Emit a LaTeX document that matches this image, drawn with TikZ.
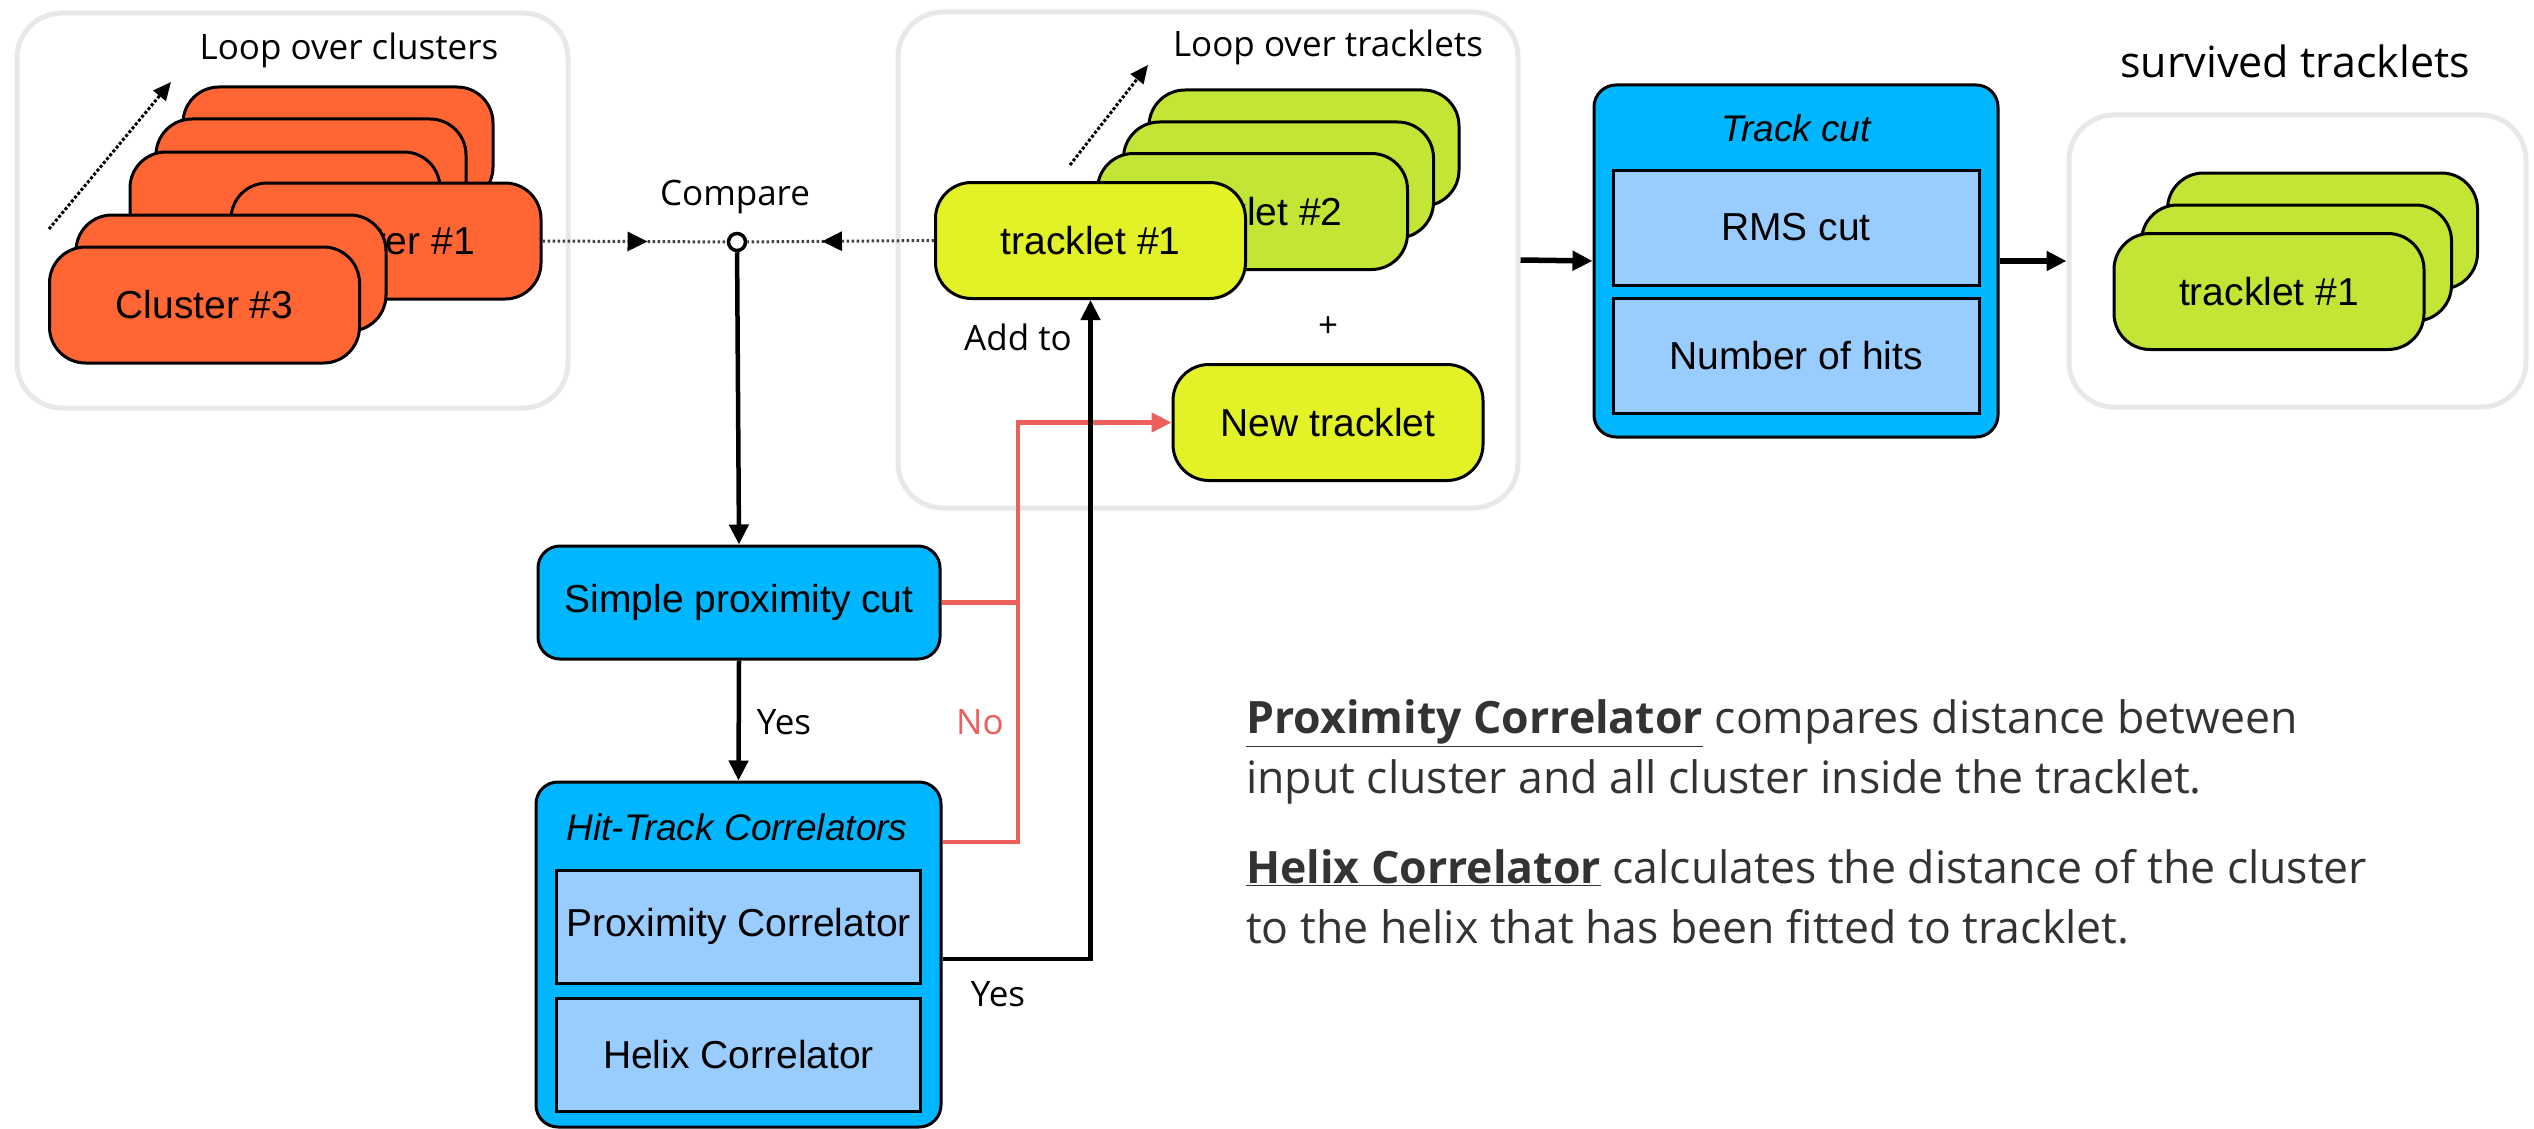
\documentclass[tikz,border=0pt]{standalone}
\usepackage{fontspec}
\setmainfont{Liberation Sans}
\newfontfamily\notefont{Open Sans}
\usetikzlibrary{arrows.meta,decorations.markings}

\definecolor{clusorange}{HTML}{FF6633}
\definecolor{trklime}{HTML}{C2E536}
\definecolor{trkyellow}{HTML}{E2F227}
\definecolor{boxblue}{HTML}{00B7FF}
\definecolor{subblue}{HTML}{99CCFF}
\definecolor{nored}{HTML}{EC5F5B}
\definecolor{panelgray}{HTML}{E8E8E8}
\newcommand\boxfont{\fontsize{39}{44}\selectfont}

\begin{document}
\begin{tikzpicture}[x=1pt,y=-1pt,
    panel/.style={draw=panelgray,line width=5pt,rounded corners=45pt},
    card/.style={draw,line width=3pt,rounded corners=36pt,minimum width=310pt,
      minimum height=116pt,inner sep=0pt,font=\boxfont},
    bluebox/.style={draw,line width=3pt,fill=boxblue,rounded corners=22pt,inner sep=0pt},
    subbox/.style={draw,line width=3pt,fill=subblue,minimum width=364pt,
      minimum height=113pt,inner sep=0pt,font=\boxfont},
    flow/.style={line width=4.5pt,-{Triangle[length=20pt,width=19pt]}},
    loopar/.style={dotted,line width=3pt,-{Triangle[length=18pt,width=16pt]}},
    cmpline/.style={dash pattern=on 2.5pt off 2.5pt,line width=3pt,black!75,postaction={decorate},
      decoration={markings,mark=at position #1 with
        {\arrow[black]{Triangle[length=20pt,width=19pt]}}}},
    note/.style={font=\notefont\fontsize{35}{40}\selectfont},
    desc/.style={font=\notefont\fontsize{44.6}{60}\selectfont,text=black!80,
      align=left,inner sep=0pt,anchor=west}
  ]
      \useasboundingbox (0,0) rectangle (2534,1129) ;
      % panels
      \node[panel,minimum width=551pt,minimum height=395pt] (pclu) at (292.5,210.5) {} ;
      \node[panel,minimum width=620pt,minimum height=496pt] (ptrk) at (1208,260) {} ;
      \node[panel,minimum width=457pt,minimum height=292pt] (psurv) at (2297.5,261) {} ;
      % cluster stack
      \node[card,fill=clusorange] (clua) at (338,145) {} ;
      \node[card,fill=clusorange] (club) at (311,177) {} ;
      \node[card,fill=clusorange] (cluc) at (285,210) {} ;
      \node[card,fill=clusorange] (clu1) at (386,241) {Cluster \#1} ;
      \node[card,fill=clusorange] (clue) at (231,273) {} ;
      \node[card,fill=clusorange] (clu3) at (204.5,305) {Cluster \#3} ;
      \coordinate (lcs) at (49,229) ;
      \coordinate (lce) at (171,82) ;
      \draw[loopar] (lcs) -- (lce) ;
      \node[note] (lclu) at (349,50) {Loop over clusters} ;
      % tracklet stack
      \node[card,fill=trklime] (trka) at (1304,148) {} ;
      \node[card,fill=trklime] (trkb) at (1278.5,180) {} ;
      \node[card,fill=trklime] (trk2) at (1252.5,211.5) {tracklet \#2} ;
      \node[card,fill=trkyellow] (trk1) at (1090.5,240.5) {tracklet \#1} ;
      \node[card,fill=trkyellow] (newtr) at (1328,422.5) {New tracklet} ;
      \node[note] (plus) at (1328,327) {+} ;
      \node[note] (addto) at (1018,337) {Add to} ;
      \coordinate (lts) at (1070,165) ;
      \coordinate (lte) at (1148,65) ;
      \draw[loopar] (lts) -- (lte) ;
      \node[note] (ltrk) at (1328,47) {Loop over tracklets} ;
      % compare point
      \node[draw,line width=3.5pt,fill=white,circle,inner sep=0pt,minimum size=17pt] %
      (cmp) at (737,242) {} ;
      \node[note] (lcmp) at (735,197) {Compare} ;
      \draw[cmpline=0.57] (clu1.east) -- (cmp) ;
      \draw[cmpline=0.6] (trk1.west) -- (cmp) ;
      % correlators
      \node[bluebox,minimum width=402pt,minimum height=113pt,font=\boxfont] %
      (simple) at (739,602.5) {Simple proximity cut} ;
      \node[bluebox,minimum width=405pt,minimum height=345pt] (htc) at (738.5,954.5) {} ;
      \node[font=\boxfont\itshape,scale=0.95] (lhtc) at (737,827) {Hit-Track Correlators} ;
      \node[subbox] (proxc) at (738.5,926.5) {Proximity Correlator} ;
      \node[subbox] (helixc) at (738.5,1054.5) {Helix Correlator} ;
      \draw[flow] (cmp) -- (simple.north) ;
      \draw[flow] (simple.south) -- (htc.north) ;
      \node[note] (lyes1) at (784,722) {Yes} ;
      \coordinate (nox) at (1018,842) ;
      \coordinate (yesx) at (1092,959) ;
      \draw[line width=4.5pt,nored] (simple.east) -- (simple.east -| nox) ;
      \draw[line width=4.5pt,nored,-{Triangle[length=20pt,width=19pt]}] %
      (htc.east |- nox) -- (nox) |- (newtr.west) ;
      \node[note,text=nored] (lno) at (980,722) {No} ;
      \draw[flow] (htc.east |- yesx) -| (trk1.south) ;
      \node[note] (lyes2) at (998,994) {Yes} ;
      % track cut
      \node[bluebox,minimum width=404pt,minimum height=352pt] (tcut) at (1796,261) {} ;
      \node[font=\boxfont\itshape,scale=0.95] (ltcut) at (1796,128) {Track cut} ;
      \node[subbox,minimum width=366pt,minimum height=115pt] (rms) at (1796,227.5) {RMS cut} ;
      \node[subbox,minimum width=366pt,minimum height=115pt] (nhits) at (1796,355.5) {Number of hits} ;
      \draw[flow,line width=5.5pt] (ptrk.east) -- (tcut.west) ;
      \draw[flow,line width=5.5pt] (tcut.east) -- (psurv.west) ;
      % survivors
      \node[card,fill=trklime] (surva) at (2322.5,231) {} ;
      \node[card,fill=trklime] (survb) at (2296.5,263) {} ;
      \node[card,fill=trklime] (surv1) at (2269,291.5) {tracklet \#1} ;
      \node[note,font=\notefont\fontsize{43}{48}\selectfont] (lsurv) at (2295,61) {survived tracklets} ;
      % description
      \node[desc] (dprox) at (1246,752) {\textbf{\underline{Proximity Correlator}} compares distance between\\
        input cluster and all cluster inside the tracklet.} ;
      \node[desc] (dhelix) at (1246,897) {\textbf{\underline{Helix Correlator}} calculates the distance of the cluster\\
        to the helix that has been fitted to tracklet.} ;
    \end{tikzpicture}
\end{document}
